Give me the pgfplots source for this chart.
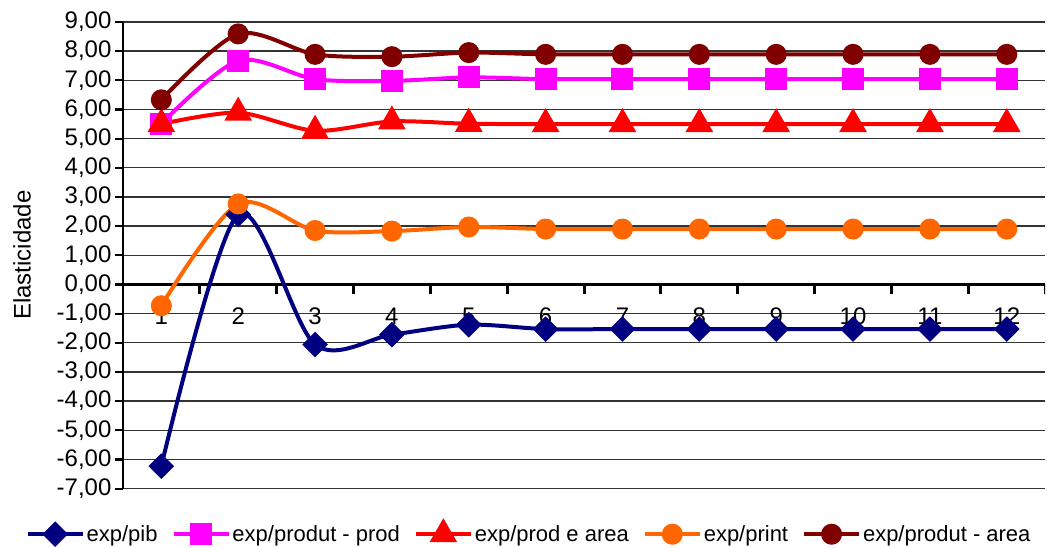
\documentclass[border=0pt]{standalone}
\usepackage{fontspec}
\setmainfont{Liberation Sans}
\usepackage{pgfplots}
\pgfplotsset{compat=1.18}
\definecolor{cnavy}{HTML}{000080}
\definecolor{cmag}{HTML}{FF00FF}
\definecolor{cred}{HTML}{FF0000}
\definecolor{corange}{HTML}{FF6600}
\definecolor{cdark}{HTML}{800000}
\begin{document}
\begin{tikzpicture}
\begin{axis}[
  scale only axis, width=923pt, height=467pt,
  xmin=0.5, xmax=12.5, ymin=-7, ymax=9,
  /pgf/number format/assume math mode=true,
  axis x line=middle, axis y line=left,
  x axis line style={-, line width=3.6pt, black},
  y axis line style={-, line width=2.6pt, black},
  xtick={1,2,...,12},
  x tick style={draw=none},
  xticklabel style={yshift=-16pt},
  ytick={-7,-6,...,9},
  ytick align=outside,
  major tick length=8pt,
  y tick style={line width=2.2pt, black},
  ymajorgrids, grid style={black!80, line width=1.4pt},
  tick label style={font=\fontsize{24}{26}\selectfont},
  scaled y ticks=false,
  yticklabel style={/pgf/number format/.cd, fixed, fixed zerofill, precision=2, use comma, assume math mode=true},
  ylabel={Elasticidade},
  every axis y label/.style={at={(axis description cs:-0.1094,0.5)}, rotate=90, anchor=center, font=\fontsize{24}{26}\selectfont},
  legend style={at={(axis description cs:0.5,0)}, anchor=center, yshift=-45pt, xshift=-55pt, draw=none, fill=none, font=\fontsize{22}{24}\selectfont, /tikz/every even column/.append style={column sep=12pt}},
  legend columns=5,
  legend image code/.code={\draw[mark repeat=2,mark phase=2,#1] plot coordinates {(0pt,0pt) (27.5pt,0pt) (55pt,0pt)};},
]
% x-axis tick marks between categories
\addplot[ycomb, black, line width=3pt, no marks, forget plot] coordinates {
(0.5,-0.32) (1.5,-0.32) (2.5,-0.32) (3.5,-0.32) (4.5,-0.32) (5.5,-0.32) (6.5,-0.32) (7.5,-0.32) (8.5,-0.32) (9.5,-0.32) (10.5,-0.32) (11.5,-0.32) (12.5,-0.32)};
\addplot[color=cnavy, line width=4pt, smooth, mark=square*, mark size=7.07pt, mark options={rotate=45, solid}] coordinates {
(1,-6.23) (2,2.40) (3,-2.06) (4,-1.72) (5,-1.38) (6,-1.53) (7,-1.53) (8,-1.53) (9,-1.53) (10,-1.53) (11,-1.53) (12,-1.53)};
\addlegendentry{exp/pib}
\addplot[color=cmag, line width=4pt, smooth, mark=square*, mark size=9pt] coordinates {
(1,5.51) (2,7.67) (3,7.04) (4,6.98) (5,7.10) (6,7.04) (7,7.04) (8,7.04) (9,7.04) (10,7.04) (11,7.04) (12,7.04)};
\addlegendentry{exp/produt - prod}
\addplot[color=cred, line width=4pt, smooth, mark=triangle*, mark size=12pt] coordinates {
(1,5.50) (2,5.89) (3,5.27) (4,5.59) (5,5.51) (6,5.50) (7,5.50) (8,5.50) (9,5.50) (10,5.50) (11,5.50) (12,5.50)};
\addlegendentry{exp/prod e area}
\addplot[color=corange, line width=4pt, smooth, mark=*, mark size=8.5pt] coordinates {
(1,-0.73) (2,2.76) (3,1.85) (4,1.83) (5,1.97) (6,1.90) (7,1.90) (8,1.90) (9,1.90) (10,1.90) (11,1.90) (12,1.90)};
\addlegendentry{exp/print}
\addplot[color=cdark, line width=4pt, smooth, mark=*, mark size=8.5pt] coordinates {
(1,6.33) (2,8.59) (3,7.89) (4,7.81) (5,7.95) (6,7.89) (7,7.89) (8,7.89) (9,7.89) (10,7.89) (11,7.89) (12,7.89)};
\addlegendentry{exp/produt - area}
\end{axis}
\path ([shift={(-123pt,-59pt)}]current axis.south west) rectangle ([shift={(1pt,22pt)}]current axis.north east);
\end{tikzpicture}
\end{document}
